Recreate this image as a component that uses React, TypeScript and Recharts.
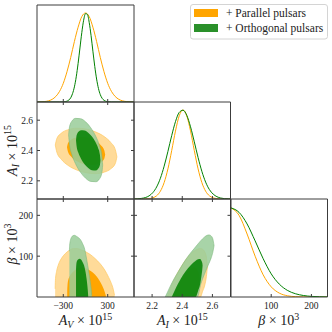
import type { ReactNode } from "react"
import { Area, ComposedChart, Line, XAxis, YAxis } from "recharts"

// ---- axes ----
const AV_DOMAIN: [number, number] = [-655, 655]
const AI_DOMAIN: [number, number] = [2.08, 2.72]
const BETA_DOMAIN: [number, number] = [0, 240]
const AV_TICKS = [-300, 300]
const AI_TICKS = [2.2, 2.4, 2.6]
const BETA_TICKS = [100, 200]
const SERIES = ["+ Parallel pulsars", "+ Orthogonal pulsars"]

// ---- 1D marginals (normalised to peak 1) ----
const AV_PAR_X = [-650, -600, -550, -500, -450, -400, -350, -300, -250, -200, -150, -100, -50, 0, 50, 100, 150, 200, 250, 300, 350, 400, 450, 500, 550, 600, 650]
const AV_PAR_Y = [0, 0.002, 0.005, 0.013, 0.03, 0.063, 0.12, 0.21, 0.34, 0.5, 0.68, 0.84, 0.96, 1, 0.96, 0.84, 0.68, 0.5, 0.34, 0.21, 0.12, 0.063, 0.03, 0.013, 0.005, 0.002, 0]
const AV_ORTH_X = [-650, -350, -300, -275, -250, -225, -200, -175, -150, -125, -100, -75, -50, -25, 0, 25, 50, 75, 100, 125, 150, 175, 200, 225, 250, 275, 300, 350, 650]
const AV_ORTH_Y = [0, 0, 0.001, 0.004, 0.009, 0.022, 0.047, 0.094, 0.17, 0.283, 0.433, 0.607, 0.78, 0.919, 0.993, 0.985, 0.895, 0.747, 0.571, 0.4, 0.258, 0.152, 0.082, 0.041, 0.019, 0.008, 0.003, 0, 0]

const AI_X = [2.08, 2.105, 2.13, 2.155, 2.18, 2.205, 2.23, 2.255, 2.28, 2.305, 2.33, 2.355, 2.38, 2.405, 2.43, 2.455, 2.48, 2.505, 2.53, 2.555, 2.58, 2.605, 2.63, 2.655, 2.68, 2.705, 2.72]
const AI_PAR_Y = [0, 0, 0, 0.001, 0.004, 0.013, 0.036, 0.088, 0.185, 0.339, 0.544, 0.763, 0.935, 1, 0.935, 0.763, 0.544, 0.339, 0.185, 0.088, 0.036, 0.013, 0.004, 0.001, 0, 0, 0]
const AI_ORTH_Y = [0.001, 0.002, 0.007, 0.016, 0.035, 0.072, 0.135, 0.233, 0.369, 0.535, 0.712, 0.869, 0.973, 0.998, 0.94, 0.811, 0.642, 0.466, 0.311, 0.19, 0.106, 0.055, 0.026, 0.011, 0.004, 0.002, 0.001]

const BETA_X = [0, 20, 40, 60, 80, 100, 120, 140, 160, 180, 200, 220, 240]
const BETA_PAR_Y = [1, 0.917, 0.707, 0.458, 0.249, 0.114, 0.044, 0.014, 0.004, 0.001, 0, 0, 0]
const BETA_ORTH_Y = [1, 0.95, 0.82, 0.63, 0.43, 0.26, 0.145, 0.075, 0.037, 0.017, 0.007, 0.003, 0.001]

// ---- 2D contours: [x, lower, upper] ----
const AVAI_PAR_95 = [[-408, 2.436, 2.436], [-387, 2.389, 2.479], [-325, 2.341, 2.515], [-242, 2.304, 2.536], [-117, 2.271, 2.547], [8, 2.253, 2.542], [133, 2.247, 2.523], [258, 2.258, 2.49], [341, 2.279, 2.453], [403, 2.315, 2.405], [424, 2.358, 2.358]]
const AVAI_PAR_68 = [[-250, 2.421, 2.421], [-237, 2.392, 2.448], [-198, 2.362, 2.47], [-147, 2.339, 2.483], [-69, 2.318, 2.489], [8, 2.307, 2.487], [85, 2.304, 2.475], [163, 2.311, 2.455], [214, 2.324, 2.432], [253, 2.346, 2.402], [266, 2.373, 2.373]]
const AVAI_ORTH_95 = [[-228, 2.503, 2.503], [-216, 2.44, 2.556], [-182, 2.371, 2.595], [-136, 2.314, 2.612], [-67, 2.256, 2.61], [2, 2.217, 2.589], [71, 2.196, 2.55], [140, 2.194, 2.492], [186, 2.211, 2.435], [220, 2.25, 2.366], [232, 2.303, 2.303]]
const AVAI_ORTH_68 = [[-128, 2.467, 2.467], [-120, 2.428, 2.5], [-95, 2.384, 2.524], [-62, 2.348, 2.534], [-13, 2.31, 2.532], [37, 2.285, 2.517], [87, 2.27, 2.492], [136, 2.268, 2.454], [169, 2.278, 2.418], [194, 2.302, 2.374], [202, 2.335, 2.335]]

const AVB_PAR_95 = [[-410, 0, 20], [-405, 0, 45], [-390, 0, 63], [-362, 0, 81], [-330, 0, 93], [-295, 0, 102], [-250, 0, 110], [-205, 0, 116], [-160, 0, 118.5], [-115, 0, 118.5], [-70, 0, 116.5], [-24, 0, 113], [20, 0, 109], [65, 0, 104], [130, 0, 94], [200, 0, 81], [260, 0, 66], [313, 0, 48], [350, 0, 33], [375, 0, 19], [392, 0, 4]]
const AVB_PAR_68 = [[-247, 0, 15], [-240, 0, 35], [-215, 0, 50], [-186, 0, 58], [-140, 0, 66], [-90, 0, 71], [-40, 0, 72], [10, 0, 70], [60, 0, 65], [110, 0, 58], [151, 0, 50], [190, 0, 40], [225, 0, 28], [255, 0, 15], [275, 0, 3]]
const AVB_ORTH_95 = [[-218, 0, 112], [-214, 0, 127], [-205, 0, 138], [-190, 0, 146], [-170, 0, 150], [-150, 0, 151], [-125, 0, 149], [-100, 0, 146], [-70, 0, 141], [-40, 0, 131], [-11, 0, 117], [10, 0, 98], [30, 0, 77], [48, 0, 57], [65, 0, 36], [76, 0, 20], [84, 0, 4]]
const AVB_ORTH_68 = [[-128, 0, 68], [-124, 0, 80], [-115, 0, 88], [-100, 0, 92], [-80, 0, 93.5], [-60, 0, 92], [-40, 0, 86], [-20, 0, 78], [0, 0, 62], [15, 0, 44], [25, 0, 28], [32, 0, 14], [36, 0, 3]]

const AIB_PAR_95 = [[2.3, 0, 0], [2.32, 0, 20], [2.35, 0, 45], [2.4, 0, 78], [2.45, 0, 103], [2.49, 0, 115], [2.52, 0, 119], [2.535, 14, 117], [2.55, 30, 110], [2.56, 50, 98], [2.567, 75, 75]]
const AIB_PAR_68 = [[2.34, 0, 0], [2.36, 0, 18], [2.39, 0, 40], [2.42, 0, 57], [2.45, 0, 67], [2.475, 0, 72], [2.49, 0, 71], [2.5, 10, 66], [2.51, 25, 57], [2.516, 42, 42]]
const AIB_ORTH_95 = [[2.287, 0, 0], [2.3, 0, 10], [2.32, 0, 26], [2.345, 0, 44], [2.38, 0, 66], [2.411, 0, 85], [2.445, 0, 103], [2.478, 0, 118], [2.5, 0, 128], [2.523, 32, 138], [2.545, 54, 146], [2.565, 72, 151], [2.578, 83, 152], [2.593, 97, 149], [2.603, 110, 142], [2.611, 126, 126]]
const AIB_ORTH_68 = [[2.33, 0, 0], [2.35, 0, 16], [2.37, 0, 31], [2.39, 0, 45], [2.42, 0, 62], [2.456, 0, 78], [2.489, 0, 89], [2.505, 15, 92.5], [2.518, 30, 93], [2.527, 50, 89], [2.533, 68, 83], [2.535, 77, 77]]

// ---- layout / style ----
const COLS = [37, 134, 230.5, 327]
const ROWS = [5, 102, 199, 297]
const PAD_L = 40
const PAD_B = 22
const PAD = 2
const SERIF = '"Liberation Serif", "DejaVu Serif", serif'
const FRAME = "#3c3c3c"
const ORANGE = "#ffa500"
const ORANGE_PALE = "#ffdb99"
const GREEN = "#008000"
const GREEN_PALE = "#99cc99"

const band = (pts: number[][]) => pts.map(([x, lo, hi]) => ({ x, r: [lo, hi] }))
const curve = (xs: number[], ys: number[]) => xs.map((x, i) => ({ x, y: ys[i] }))
const fmt = (v: number) => (v < 0 ? `\u2212${-v}` : Number.isInteger(v) ? `${v}` : v.toFixed(1))
const noTick = () => <g />

type PanelProps = {
  col: number
  row: number
  xDomain: [number, number]
  yDomain: [number, number]
  xTicks: number[]
  yTicks?: number[]
  xLabels?: boolean
  yLabels?: boolean
  children: ReactNode
}

function Panel({ col, row, xDomain, yDomain, xTicks, yTicks, xLabels, yLabels, children }: PanelProps) {
  const left = COLS[col]
  const top = ROWS[row]
  const w = COLS[col + 1] - left
  const h = ROWS[row + 1] - top
  const diag = !yTicks
  const tickStyle = { fontSize: 9.5, fill: "#222", fontFamily: SERIF }
  const line = { stroke: FRAME, strokeWidth: 1 }
  return (
    <div style={{ position: "absolute", left: left - PAD_L, top: top - PAD }}>
      <ComposedChart width={w + PAD_L + PAD} height={h + PAD + PAD_B} margin={{ top: PAD - 1, right: PAD - 1, bottom: 0, left: 0 }}>
        <XAxis xAxisId="b" dataKey="x" type="number" domain={xDomain} allowDataOverflow ticks={xTicks} interval={0}
          height={PAD_B} tickSize={-3} tickMargin={8} axisLine={line} tickLine={line}
          tick={xLabels ? tickStyle : noTick} tickFormatter={fmt} />
        <XAxis xAxisId="t" orientation="top" dataKey="x" type="number" domain={xDomain} allowDataOverflow ticks={xTicks} interval={0}
          height={1} tickSize={-3} axisLine={line} tickLine={diag ? false : line} tick={noTick} />
        <YAxis yAxisId="l" type="number" domain={yDomain} allowDataOverflow ticks={diag ? [yDomain[0]] : yTicks} interval={0}
          width={PAD_L} tickSize={-3} tickMargin={7} axisLine={line} tickLine={diag ? false : line}
          tick={yLabels ? tickStyle : noTick} tickFormatter={fmt} />
        <YAxis yAxisId="r" orientation="right" type="number" domain={yDomain} allowDataOverflow ticks={diag ? [yDomain[0]] : yTicks} interval={0}
          width={1} tickSize={-3} axisLine={line} tickLine={diag ? false : line} tick={noTick} />
        {children}
      </ComposedChart>
    </div>
  )
}

function Contours({ p95, p68, o95, o68 }: { p95: number[][]; p68: number[][]; o95: number[][]; o68: number[][] }) {
  const common = { xAxisId: "b", yAxisId: "l", dataKey: "r", type: "monotone" as const, dot: false, activeDot: false, isAnimationActive: false }
  return [
    <Area key="p95" {...common} data={band(p95)} fill={ORANGE_PALE} fillOpacity={1} stroke="#ffc862" strokeWidth={0.7} />,
    <Area key="p68" {...common} data={band(p68)} fill={ORANGE} fillOpacity={1} stroke="none" />,
    <Area key="o95" {...common} data={band(o95)} fill={GREEN_PALE} fillOpacity={0.85} stroke="#7fb87f" strokeOpacity={0.85} strokeWidth={0.7} />,
    <Area key="o68" {...common} data={band(o68)} fill={GREEN} fillOpacity={0.85} stroke="none" />,
  ]
}

function Marginals({ par, orth }: { par: { x: number; y: number }[]; orth: { x: number; y: number }[] }) {
  const common = { xAxisId: "b", yAxisId: "l", dataKey: "y", type: "monotone" as const, dot: false, activeDot: false, isAnimationActive: false, strokeWidth: 1 }
  return [
    <Line key="par" {...common} data={par} stroke={ORANGE} />,
    <Line key="orth" {...common} data={orth} stroke={GREEN} />,
  ]
}

function MathLabel({ x, y, rotate, sym, sub, exp }: { x: number; y: number; rotate?: boolean; sym: string; sub?: string; exp: string }) {
  return (
    <text transform={`translate(${x},${y})${rotate ? " rotate(-90)" : ""}`} textAnchor="middle" fontFamily={SERIF}
      fontSize={14} fill="#222" style={{ whiteSpace: "pre" }}>
      <tspan fontStyle="italic">{sym}</tspan>
      {sub && <tspan fontStyle="italic" fontSize={10} dy={2.8}>{sub}</tspan>}
      <tspan dy={sub ? -2.8 : 0}>{" \u00d7 10"}</tspan>
      <tspan fontSize={10} dy={-5.5}>{exp}</tspan>
    </text>
  )
}

export default function App() {
  return (
    <div style={{ position: "absolute", left: 0, top: 0, width: 332, height: 332, background: "#fff", overflow: "hidden" }}>
      <Panel col={0} row={0} xDomain={AV_DOMAIN} yDomain={[0, 1.09]} xTicks={AV_TICKS}>
        {Marginals({ par: curve(AV_PAR_X, AV_PAR_Y), orth: curve(AV_ORTH_X, AV_ORTH_Y) })}
      </Panel>
      <Panel col={1} row={1} xDomain={AI_DOMAIN} yDomain={[0, 1.09]} xTicks={AI_TICKS}>
        {Marginals({ par: curve(AI_X, AI_PAR_Y), orth: curve(AI_X, AI_ORTH_Y) })}
      </Panel>
      <Panel col={2} row={2} xDomain={BETA_DOMAIN} yDomain={[0, 1.1]} xTicks={BETA_TICKS} xLabels>
        {Marginals({ par: curve(BETA_X, BETA_PAR_Y), orth: curve(BETA_X, BETA_ORTH_Y) })}
      </Panel>
      <Panel col={0} row={1} xDomain={AV_DOMAIN} yDomain={AI_DOMAIN} xTicks={AV_TICKS} yTicks={AI_TICKS} yLabels>
        {Contours({ p95: AVAI_PAR_95, p68: AVAI_PAR_68, o95: AVAI_ORTH_95, o68: AVAI_ORTH_68 })}
      </Panel>
      <Panel col={0} row={2} xDomain={AV_DOMAIN} yDomain={BETA_DOMAIN} xTicks={AV_TICKS} yTicks={BETA_TICKS} xLabels yLabels>
        {Contours({ p95: AVB_PAR_95, p68: AVB_PAR_68, o95: AVB_ORTH_95, o68: AVB_ORTH_68 })}
      </Panel>
      <Panel col={1} row={2} xDomain={AI_DOMAIN} yDomain={BETA_DOMAIN} xTicks={AI_TICKS} yTicks={BETA_TICKS} xLabels>
        {Contours({ p95: AIB_PAR_95, p68: AIB_PAR_68, o95: AIB_ORTH_95, o68: AIB_ORTH_68 })}
      </Panel>

      <svg width={332} height={332} style={{ position: "absolute", left: 0, top: 0, pointerEvents: "none" }}>
        <MathLabel x={85.5} y={325} sym="A" sub="V" exp="15" />
        <MathLabel x={182.3} y={325} sym="A" sub="I" exp="15" />
        <MathLabel x={278.8} y={325} sym={"\u03b2"} exp="3" />
        <MathLabel x={16.5} y={150.5} rotate sym="A" sub="I" exp="15" />
        <MathLabel x={16.5} y={244} rotate sym={"\u03b2"} exp="3" />

        <rect x={190.5} y={4.5} width={137} height={34.5} rx={2.5} fill="#fff" stroke="#d4d4d4" />
        <rect x={194} y={9} width={24} height={8} fill={ORANGE} />
        <rect x={194} y={24} width={24} height={8} fill="#2a902a" />
        <text x={226} y={17} fontFamily={SERIF} fontSize={11.5} fill="#222">{SERIES[0]}</text>
        <text x={226} y={32.3} fontFamily={SERIF} fontSize={11.5} fill="#222">{SERIES[1]}</text>
      </svg>
    </div>
  )
}
